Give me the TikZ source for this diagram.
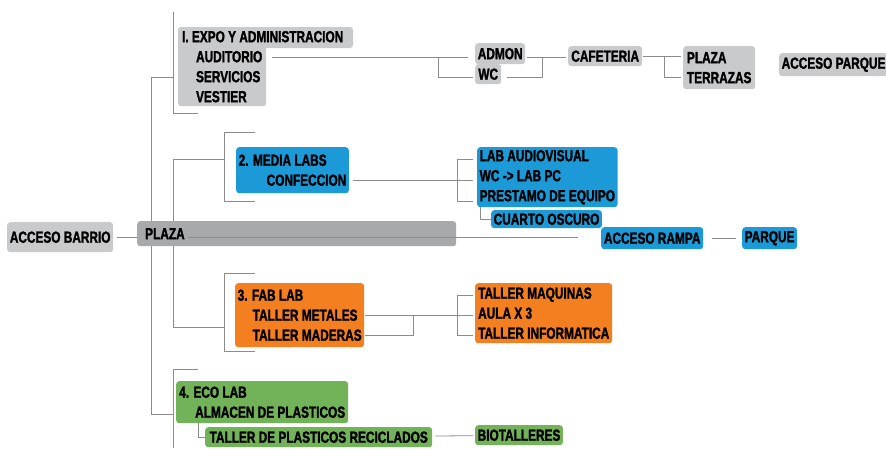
\documentclass[tikz,border=0pt]{standalone}
\usepackage{fontspec}
\newfontfamily\boxfont[FakeStretch=0.74, BoldFeatures={FakeBold=1.6}]{Liberation Sans}
\definecolor{gris}{HTML}{C9CACC}
\definecolor{grisosc}{HTML}{A8A9AB}
\definecolor{azul}{HTML}{1B9AD7}
\definecolor{naranja}{HTML}{F47F20}
\definecolor{verde}{HTML}{72B35A}
\definecolor{linea}{HTML}{8C8C8C}
\begin{document}
\begin{tikzpicture}
        [x=1pt,y=-1pt,
         every node/.style={anchor=north west, rounded corners=3pt, inner xsep=2.5pt, inner ysep=0pt,
           align=left, text=black, font=\boxfont\bfseries\fontsize{16}{20}\selectfont},
         cajagris/.style={fill=gris},
         cajaazul/.style={fill=azul},
         cajanaranja/.style={fill=naranja},
         cajaverde/.style={fill=verde},
         link/.style={draw=linea, line width=0.8pt}]
      \useasboundingbox (0,0) rectangle (886,448);

      % acceso y plaza
      \node[cajagris, minimum width=106pt, minimum height=30pt] (barrio) at (7,222) {ACCESO BARRIO};
      \node[fill=grisosc, text width=303pt, inner xsep=8pt, minimum height=25pt] (plaza) at (137,221) {PLAZA};

      % 1. expo
      \fill[gris, rounded corners=3pt] (178,27) rectangle (353,48);
      \node[cajagris, minimum width=88pt, minimum height=79pt] (expo) at (178,27)
        {\rlap{I. EXPO Y ADMINISTRACION}\\\hspace*{14pt}AUDITORIO\\\hspace*{14pt}SERVICIOS\\\hspace*{14pt}VESTIER};
      \node[cajagris, minimum width=50pt, minimum height=21pt] (admon) at (475,43) {ADMON};
      \node[cajagris, minimum width=26pt, minimum height=20pt] (wc) at (475,64) {WC};
      \node[cajagris, minimum width=74pt, minimum height=20pt] (cafe) at (568,46) {CAFETERIA};
      \node[cajagris, minimum width=72pt, minimum height=43pt] (terrazas) at (683,46) {PLAZA\\TERRAZAS};
      \node[cajagris, minimum width=106pt, minimum height=23pt] (accparque) at (779,53) {ACCESO PARQUE};

      % 2. media labs
      \node[cajaazul, minimum width=112pt, minimum height=46pt] (media) at (236,147)
        {2. MEDIA LABS\\\hspace*{28pt}CONFECCION};
      \node[cajaazul, minimum width=136pt, minimum height=60pt] (audio) at (477,147)
        {LAB AUDIOVISUAL\\WC -> LAB PC\\PRESTAMO DE EQUIPO};
      \node[cajaazul, minimum width=107pt, minimum height=18pt] (oscuro) at (491,210) {CUARTO OSCURO};
      \node[cajaazul, minimum width=102pt, minimum height=22pt] (rampa) at (601,227) {ACCESO RAMPA};
      \node[cajaazul, minimum width=54pt, minimum height=22pt] (parque) at (742,227) {PARQUE};

      % 3. fab lab
      \node[cajanaranja, minimum width=127pt, minimum height=64pt] (fab) at (235,283)
        {3. FAB LAB\\\hspace*{15pt}TALLER METALES\\\hspace*{15pt}TALLER MADERAS};
      \node[cajanaranja, minimum width=137pt, minimum height=60pt] (maquinas) at (475,283)
        {TALLER MAQUINAS\\AULA X 3\\TALLER INFORMATICA};

      % 4. eco lab
      \node[cajaverde, minimum width=172pt, minimum height=42pt] (eco) at (176,381)
        {4. ECO LAB\\\hspace*{16pt}ALMACEN DE PLASTICOS};
      \node[cajaverde, minimum width=227pt, minimum height=20pt] (reciclados) at (205,427) {TALLER DE PLASTICOS RECICLADOS};
      \node[cajaverde, minimum width=87pt, minimum height=20pt] (bio) at (475,425) {BIOTALLERES};

      % tronco
      \coordinate (trunkA) at (151,0);
      \coordinate (trunkB) at (173,0);
      \draw[link, shorten <=4pt] (barrio.east) -- (barrio.east -| plaza.west);
      \draw[link] ([xshift=51pt]plaza.west |- 0,237) -- ([xshift=-23pt]rampa.west |- 0,237);
      \draw[link, shorten <=9pt, shorten >=6pt] (rampa) -- (parque);
      \draw[link] (plaza.north -| trunkA) |- (173,77);
      \draw[link] (plaza.north -| trunkB) |- (224,159);
      \draw[link] (plaza.south -| trunkB) |- (224,327);
      \draw[link] (plaza.south -| trunkA) |- (173,414);

      % corchetes
      \draw[link] (173,12) |- (198,113);
      \draw[link] (198,369) -| (173,448);
      \foreach \ya/\yb in {132/201, 273/351}
        \draw[link] (255,\ya) -| (224,\yb) -- (255,\yb);
      \foreach \ya/\yb in {159/201, 295/335}
        \draw[link] (473,\ya) -| (457,\yb) -- (473,\yb);

      % 1. expo
      \draw[link] (272,57) -- (468,57);
      \draw[link] (438,57) |- (473,77);
      \draw[link] (527,57) -- (566,57);
      \draw[link] (507,77) -| (542,57);
      \draw[link] (643,56) -- (681,56);
      \draw[link] (664,56) |- (681,77);

      % 2. media labs
      \draw[link] (353,180) -- (473,180);
      \draw[link] (audio.south west -| 480,0) |- (oscuro.west);

      % 3. fab lab
      \draw[link] (365,315) -- (473,315);
      \draw[link] (365,335) -| (413,315);

      % 4. eco lab
      \draw[link] (eco.south west -| 198,0) |- (reciclados.west);
      \draw[link, shorten <=3pt, shorten >=2pt] (reciclados) -- (bio);
    \end{tikzpicture}
\end{document}
